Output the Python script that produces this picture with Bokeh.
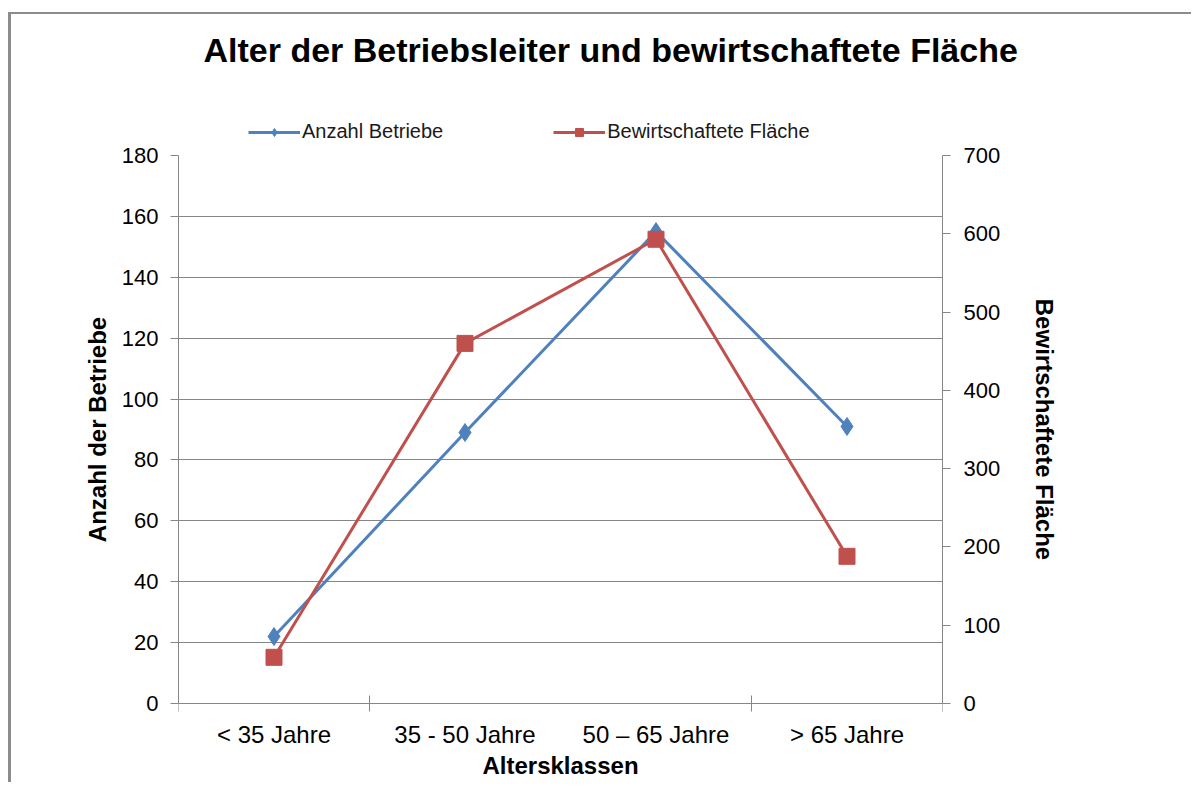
import math
from bokeh.plotting import figure
from bokeh.models import (Range1d, LinearAxis, SingleIntervalTicker, FixedTicker,
                          Legend, LegendItem, ColumnDataSource)
from bokeh.embed import file_html
from bokeh.resources import INLINE

categories = ["< 35 Jahre", "35 - 50 Jahre", "50 \u2013 65 Jahre", "> 65 Jahre"]
anzahl_betriebe = [22, 89, 155, 91]
bewirtschaftete_flaeche = [59, 460, 593, 188]

left_max = 180
right_max = 700

title_text = "Alter der Betriebsleiter und bewirtschaftete Fl\u00e4che"
x_label = "Altersklassen"
y_left_label = "Anzahl der Betriebe"
y_right_label = "Bewirtschaftete Fl\u00e4che"
series_names = ["Anzahl Betriebe", "Bewirtschaftete Fl\u00e4che"]

FONT = "Liberation Sans"
BLUE = "#4F81BD"
RED = "#C0504D"
GRAY = "#868686"

# value axes are 548 px tall; the frame extends 81 px above (legend) and
# 81 px below (category axis texts) so the axis titles stay centred
AXIS_PX = 548
EXTRA_PX = 81
e = EXTRA_PX / AXIS_PX

xpos = [i + 0.5 for i in range(len(categories))]
src = ColumnDataSource(dict(x=xpos, a=anzahl_betriebe, f=bewirtschaftete_flaeche))

p = figure(width=1183, height=60 + AXIS_PX + 2 * EXTRA_PX,
           output_backend="svg", toolbar_location=None,
           x_range=Range1d(0, len(categories)),
           y_range=Range1d(-left_max * e, left_max * (1 + e)),
           min_border_left=167, min_border_right=252, min_border_top=60,
           min_border_bottom=0)
p.styles = {"border-left": "3px solid #8c8c8c", "border-top": "2px solid #8c8c8c",
            "margin-top": "12px", "margin-left": "8px"}
p.outline_line_color = None
p.background_fill_color = "white"
p.border_fill_color = "white"

p.title.text = title_text
p.title.text_font = FONT
p.title.text_font_size = "34px"
p.title.text_font_style = "bold"
p.title.align = "left"
p.title.offset = 25
p.title.standoff = 12
p.title.text_color = "black"

p.extra_y_ranges = {"right": Range1d(-right_max * e, right_max * (1 + e))}

ya = p.yaxis[0]
ya.ticker = SingleIntervalTicker(interval=20)
ya.bounds = (0, left_max)
ya.axis_label = y_left_label

ra = LinearAxis(y_range_name="right", ticker=SingleIntervalTicker(interval=100),
                axis_label=y_right_label, bounds=(0, right_max))
p.add_layout(ra, "right")

for ax in [ya, ra]:
    ax.axis_line_color = GRAY
    ax.major_tick_line_color = GRAY
    ax.major_tick_in = 0
    ax.major_tick_out = 8
    ax.minor_tick_line_color = None
    ax.major_label_text_font = FONT
    ax.major_label_text_font_size = "22px"
    ax.major_label_text_color = "black"
    ax.axis_label_text_font = FONT
    ax.axis_label_text_font_size = "24px"
    ax.axis_label_text_font_style = "bold"
    ax.axis_label_text_color = "black"
ya.major_label_standoff = 12
ya.axis_label_standoff = 8
ra.major_label_standoff = 13
ra.axis_label_standoff = 28

xa = p.xaxis[0]
xa.fixed_location = 0
xa.ticker = FixedTicker(ticks=xpos, minor_ticks=[0, 1, 3, 4])
xa.major_label_overrides = {x: c for x, c in zip(xpos, categories)}
xa.axis_line_color = GRAY
xa.major_tick_line_color = None
xa.major_tick_in = 0
xa.major_tick_out = 0
xa.minor_tick_line_color = GRAY
xa.minor_tick_in = 8
xa.minor_tick_out = 8
xa.major_label_text_font = FONT
xa.major_label_text_font_size = "24px"
xa.major_label_text_color = "black"
xa.major_label_standoff = 9
xa.axis_label = x_label
xa.axis_label_text_font = FONT
xa.axis_label_text_font_size = "24px"
xa.axis_label_text_font_style = "bold"
xa.axis_label_text_color = "black"
xa.axis_label_standoff = 1

p.xgrid.visible = False
p.ygrid.ticker = FixedTicker(ticks=list(range(20, left_max, 20)))
p.ygrid.grid_line_color = GRAY
p.ygrid.grid_line_width = 1

l1 = p.line("x", "a", source=src, line_color=BLUE, line_width=3)
m1 = p.scatter("x", "a", source=src, marker="diamond", size=18, fill_color=BLUE,
               line_color=BLUE)
l2 = p.line("x", "f", source=src, line_color=RED, line_width=3, y_range_name="right")
m2 = p.scatter("x", "f", source=src, marker="square", size=16, fill_color=RED,
               line_color=RED, y_range_name="right")

legend = Legend(items=[LegendItem(label=series_names[0], renderers=[l1, m1]),
                       LegendItem(label=series_names[1], renderers=[l2, m2])],
                orientation="horizontal", location=(70, 560 + EXTRA_PX),
                glyph_width=52, glyph_height=20, label_standoff=2, spacing=110,
                padding=0, margin=0, border_line_color=None,
                background_fill_alpha=0, label_text_font=FONT,
                label_text_font_size="20px", label_text_color="#1a1a1a")
p.add_layout(legend, "center")

open("out.html", "w").write(file_html(p, INLINE))
